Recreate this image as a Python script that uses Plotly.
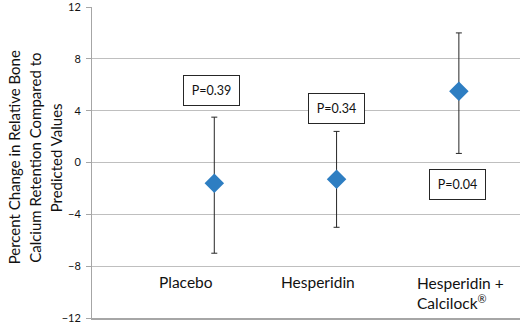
import plotly.graph_objects as go

categories = ["Placebo", "Hesperidin", "Hesperidin +<br>Calcilock<sup>®</sup>"]
x_pos = [1, 2, 3]
means = [-1.6, -1.3, 5.5]
upper = [3.5, 2.4, 10.0]
lower = [-7.0, -5.0, 0.7]
p_labels = ["P=0.39", "P=0.34", "P=0.04"]
p_label_y = [5.55, 4.15, -1.7]
y_ticks = [-12, -8, -4, 0, 4, 8, 12]
y_title_lines = ["Percent Change in Relative Bone", "Calcium Retention Compared to", "Predicted Values"]

FONT = "Lato, 'Open Sans', sans-serif"

err_plus = [u - m for u, m in zip(upper, means)]
err_minus = [m - l for m, l in zip(means, lower)]

fig = go.Figure()
fig.add_trace(go.Scatter(
    x=x_pos, y=means, mode="markers",
    marker=dict(symbol="diamond", size=15, color="#2e7ec2", line=dict(width=0)),
    error_y=dict(type="data", symmetric=False, array=err_plus, arrayminus=err_minus,
                 color="#262626", thickness=1, width=3),
    showlegend=False, hoverinfo="skip",
))

# category labels (drawn inside the plot area like the original)
label_x = [0.53, 1.53, 2.64]
label_y = [-9.25, -9.25, -10.05]
for cat, lx, ly in zip(categories, label_x, label_y):
    fig.add_annotation(x=lx, y=ly, xref="x", yref="y", text=cat, showarrow=False,
                       xanchor="left", yanchor="middle", align="left",
                       font=dict(family=FONT, size=15.5, color="#111111"))

# p-value boxes
p_label_x = [0.98, 2.0, 2.99]
for t, px, py in zip(p_labels, p_label_x, p_label_y):
    fig.add_annotation(x=px, y=py, xref="x", yref="y", text=t, showarrow=False,
                       xanchor="center", yanchor="middle",
                       width=55, height=29, borderpad=0, borderwidth=1,
                       bordercolor="#262626", bgcolor="white",
                       font=dict(family=FONT, size=12.5, color="#111111"))

# y axis title, one annotation per line
title_x_px = [13.5, 35, 55.5]
for line, tx in zip(y_title_lines, title_x_px):
    fig.add_annotation(
        x=(tx - 92) / 428, y=0.515, xref="paper", yref="paper", textangle=-90,
        text=line, showarrow=False, xanchor="center", yanchor="middle",
        font=dict(family=FONT, size=15, color="#111111"))

fig.update_xaxes(range=[0, 3.5], showgrid=False, zeroline=False, showticklabels=False,
                 showline=True, linecolor="#a6a6a6", linewidth=2, ticks="", fixedrange=True)
fig.update_yaxes(range=[-12, 12], tickvals=y_ticks, showgrid=True, gridcolor="#bfbfbf",
                 gridwidth=1, zeroline=False, showline=True, linecolor="#a6a6a6", linewidth=1,
                 ticks="outside", ticklen=5, tickcolor="#a6a6a6", ticklabelstandoff=3,
                 ticklabeloverflow="allow",
                 tickfont=dict(family=FONT, size=11, color="#111111"))

fig.update_layout(
    width=520, height=325,
    margin=dict(l=92, r=0, t=7, b=7),
    plot_bgcolor="white", paper_bgcolor="white",
)

fig.write_html("out.html", config={"displayModeBar": False},
               post_script="document.body.style.margin='0';document.body.style.overflow='hidden';")
